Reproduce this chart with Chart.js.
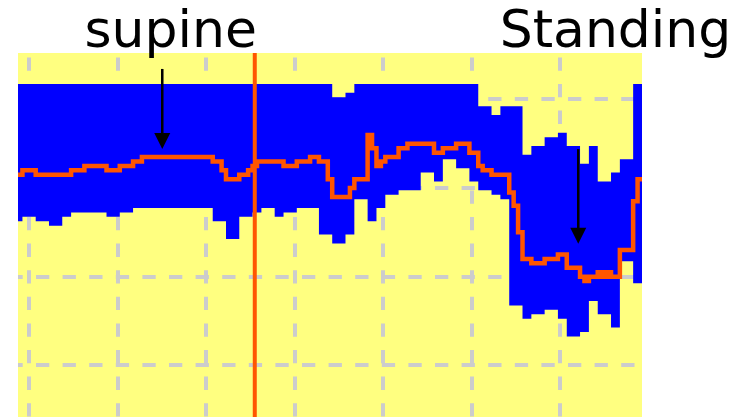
<!DOCTYPE html>
<html>
<head>
<meta charset="utf-8">
<script src="https://cdn.jsdelivr.net/npm/chart.js@4/dist/chart.umd.min.js"></script>
<style>
  html, body { margin: 0; padding: 0; background: #fff; }
</style>
</head>
<body>
<canvas id="postureChart" width="747" height="417"></canvas>
<script>
// one value per sample, samples are 1 unit wide
var firstX = -2.5;

var upperBand = [
  63.5, 63.5, 63.5, 63.5, 63.5, 63.5, 63.5, 63.5, 63.5, 63.5,
  63.5, 63.5, 63.5, 63.5, 63.5, 63.5, 63.5, 63.5, 63.5, 63.5,
  63.5, 63.5, 63.5, 63.5, 63.5, 63.5, 63.5, 63.5, 63.5, 63.5,
  63.5, 63.5, 63.5, 63.5, 63.5, 63.5, 63.5, 63.5, 63.5, 63.5,
  63.5, 63.5, 63.5, 63.5, 63.5, 63.5, 63.5, 63.5, 63.5, 63.5,
  63.5, 63.5, 63.5, 63.5, 63.5, 63.5, 63.5, 63.5, 63.5, 63.5,
  63.5, 63.5, 63.5, 63.5, 63.5, 63.5, 63.5, 63.5, 63.5, 63.5,
  63.5, 60.5, 60.5, 60.5, 61.5, 61.5, 63.5, 63.5, 63.5, 63.5,
  63.5, 63.5, 63.5, 63.5, 63.5, 63.5, 63.5, 63.5, 63.5, 63.5,
  63.5, 63.5, 63.5, 63.5, 63.5, 63.5, 63.5, 63.5, 63.5, 63.5,
  63.5, 63.5, 63.5, 63.5, 58.5, 58.5, 58.5, 56.5, 56.5, 58.5,
  58.5, 58.5, 58.5, 58.5, 47.5, 47.5, 49.5, 49.5, 49.5, 51.5,
  51.5, 51.5, 52.5, 52.5, 49.5, 49.5, 49.5, 45.5, 45.5, 49.5,
  49.5, 41.5, 41.5, 41.5, 43.5, 43.5, 46.5, 46.5, 46.5, 63.5,
  63.5
];

var lowerBand = [
  32.5, 33.5, 33.5, 33.5, 32.5, 32.5, 32.5, 31.5, 31.5, 31.5,
  33.5, 33.5, 34.5, 34.5, 34.5, 34.5, 34.5, 34.5, 34.5, 34.5,
  33.5, 33.5, 33.5, 34.5, 34.5, 34.5, 35.5, 35.5, 35.5, 35.5,
  35.5, 35.5, 35.5, 35.5, 35.5, 35.5, 35.5, 35.5, 35.5, 35.5,
  35.5, 35.5, 35.5, 35.5, 32.5, 32.5, 32.5, 28.5, 28.5, 28.5,
  33.5, 33.5, 33.5, 34.5, 34.5, 35.5, 35.5, 35.5, 33.5, 33.5,
  34.5, 34.5, 34.5, 35.5, 35.5, 35.5, 35.5, 35.5, 29.5, 29.5,
  29.5, 27.5, 27.5, 27.5, 29.5, 29.5, 37.5, 37.5, 37.5, 32.5,
  32.5, 35.5, 35.5, 38.5, 38.5, 38.5, 39.5, 39.5, 39.5, 39.5,
  39.5, 43.5, 43.5, 43.5, 41.5, 41.5, 46.5, 46.5, 46.5, 44.5,
  44.5, 44.5, 41.5, 41.5, 39.5, 39.5, 39.5, 38.5, 38.5, 37.5,
  37.5, 13.5, 13.5, 13.5, 10.5, 10.5, 11.5, 11.5, 11.5, 12.5,
  12.5, 12.5, 10.5, 10.5, 6.5, 6.5, 6.5, 7.5, 7.5, 14.5,
  14.5, 11.5, 11.5, 11.5, 8.5, 8.5, 23.5, 23.5, 23.5, 18.5,
  18.5
];

var midLine = [
  43, 44, 44, 44, 43, 43, 43, 43, 43, 43,
  43, 43, 44, 44, 44, 45, 45, 45, 45, 45,
  44, 44, 44, 45, 45, 45, 46, 46, 47, 47,
  47, 47, 47, 47, 47, 47, 47, 47, 47, 47,
  47, 47, 47, 47, 46, 46, 44, 42, 42, 42,
  43, 43, 44, 45, 46, 46, 46, 46, 46, 46,
  45, 45, 45, 46, 46, 46, 47, 47, 46, 46,
  42, 38, 38, 38, 38, 40, 42, 42, 42, 52,
  49, 45, 46, 47, 47, 47, 49, 49, 50, 50,
  50, 50, 50, 50, 48, 48, 49, 49, 49, 50,
  50, 50, 48, 48, 45, 44, 44, 43, 43, 43,
  43, 39, 36, 30, 24, 24, 23, 23, 23, 24,
  24, 24, 25, 25, 22, 22, 22, 20, 19, 20,
  20, 21, 20, 21, 20, 20, 26, 26, 26, 37,
  42
];

var markerX = 51;   // vertical line between the two postures

var gridX = [0, 20, 40, 60, 80, 100, 120];
var gridY = [0, 20, 40, 60];
var xMin = -2.5, xMax = 138.5;
var yMin = -11.7, yMax = 70.5;

var noteLabels = ['supine', 'Standing'];
var noteX = [32, 132.5];
var noteY = [71.9, 71.9];
var arrowX = [30.1, 124.1];
var arrowFromY = [66.9, 48.8];
var arrowToY = [48.8, 27.4];

function stepPoints(values) {
  var pts = values.map(function (v, i) { return { x: firstX + i, y: v }; });
  pts.push({ x: firstX + values.length, y: values[values.length - 1] });
  return pts;
}

var backdrop = {
  id: 'backdrop',
  beforeDraw: function (chart) {
    var ctx = chart.ctx, a = chart.chartArea;
    ctx.save();
    ctx.fillStyle = '#ffffff';
    ctx.fillRect(0, 0, chart.width, chart.height);
    ctx.fillStyle = '#ffff80';
    ctx.fillRect(a.left, a.top, a.right - a.left, a.bottom - a.top);
    ctx.restore();
  }
};

var notes = {
  id: 'notes',
  afterDatasetsDraw: function (chart) {
    var ctx = chart.ctx, xs = chart.scales.x, ys = chart.scales.y;
    ctx.save();
    ctx.strokeStyle = '#000';
    ctx.fillStyle = '#000';
    ctx.lineWidth = 2.5;
    for (var i = 0; i < noteLabels.length; i++) {
      var ax = xs.getPixelForValue(arrowX[i]);
      var y0 = ys.getPixelForValue(arrowFromY[i]);
      var y1 = ys.getPixelForValue(arrowToY[i]);
      ctx.beginPath();
      ctx.moveTo(ax, y0);
      ctx.lineTo(ax, y1 - 15);
      ctx.stroke();
      ctx.beginPath();
      ctx.moveTo(ax - 8, y1 - 16);
      ctx.lineTo(ax + 8, y1 - 16);
      ctx.lineTo(ax, y1);
      ctx.closePath();
      ctx.fill();
    }
    ctx.font = '52px "DejaVu Sans"';
    ctx.textAlign = 'center';
    ctx.textBaseline = 'alphabetic';
    for (var j = 0; j < noteLabels.length; j++) {
      ctx.fillText(noteLabels[j], xs.getPixelForValue(noteX[j]), ys.getPixelForValue(noteY[j]));
    }
    ctx.restore();
  }
};

var ctx = document.getElementById('postureChart').getContext('2d');
var chart = new Chart(ctx, {
  type: 'line',
  data: {
    datasets: [{
      data: stepPoints(upperBand),
      stepped: true,
      fill: 1,
      backgroundColor: '#0000ff',
      borderColor: 'rgba(0,0,0,0)',
      borderWidth: 0,
      pointRadius: 0,
      order: 3
    }, {
      data: stepPoints(lowerBand),
      stepped: true,
      fill: false,
      borderColor: 'rgba(0,0,0,0)',
      borderWidth: 0,
      pointRadius: 0,
      order: 3
    }, {
      data: stepPoints(midLine),
      stepped: true,
      fill: false,
      borderColor: '#ff5500',
      borderWidth: 4.5,
      pointRadius: 0,
      order: 1
    }, {
      data: [{ x: markerX, y: yMin }, { x: markerX, y: yMax }],
      fill: false,
      borderColor: '#ff5500',
      borderWidth: 4,
      pointRadius: 0,
      order: 0
    }]
  },
  options: {
    responsive: false,
    animation: false,
    devicePixelRatio: 1,
    layout: { padding: { left: 18, top: 53, right: 105, bottom: 0 } },
    plugins: { legend: { display: false }, tooltip: { enabled: false } },
    scales: {
      x: {
        type: 'linear',
        min: xMin,
        max: xMax,
        afterBuildTicks: function (axis) { axis.ticks = gridX.map(function (v) { return { value: v }; }); },
        ticks: { display: false },
        grid: { color: '#cccccc', lineWidth: 4, drawTicks: false },
        border: { display: false, dash: [13.3, 13.3], dashOffset: 22.2 }
      },
      y: {
        type: 'linear',
        min: yMin,
        max: yMax,
        afterBuildTicks: function (axis) { axis.ticks = gridY.map(function (v) { return { value: v }; }); },
        ticks: { display: false },
        grid: { color: '#cccccc', lineWidth: 4, drawTicks: false },
        border: { display: false, dash: [13.3, 13.3], dashOffset: 8.6 }
      }
    }
  },
  plugins: [backdrop, notes]
});
</script>
</body>
</html>
